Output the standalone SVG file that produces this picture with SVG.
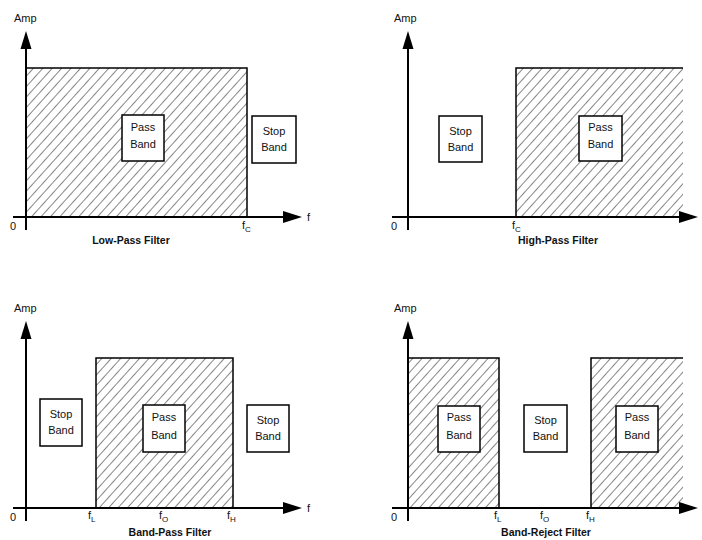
<svg xmlns="http://www.w3.org/2000/svg" width="702" height="540" viewBox="0 0 702 540">
<defs>
<pattern id="hatch" patternUnits="userSpaceOnUse" width="7" height="7" patternTransform="rotate(42)">
<line x1="0" y1="0" x2="0" y2="7" stroke="#222" stroke-width="1.1"/>
</pattern>
</defs>
<style>
text{font-family:"Liberation Sans",Arial,sans-serif;fill:#111;}
.lbl{font-size:11px;}
.bt{font-size:11px;text-anchor:middle;}
.title{font-size:10.5px;font-weight:bold;text-anchor:middle;}
.sub{font-size:8px;}
.axis{stroke:#000;stroke-width:2;fill:none;}
.edge{stroke:#000;stroke-width:1.5;fill:none;}
.box{fill:#fff;stroke:#000;stroke-width:1.5;}
.hatch{fill:url(#hatch);stroke:none;}
.ah{fill:#000;stroke:none;}
</style>
<rect width="702" height="540" fill="#fff"/>

<!-- Panel 1: Low-Pass -->
<g id="lowpass">
<rect class="hatch" x="26" y="68" width="221" height="149"/>
<polyline class="edge" points="26,68 247,68 247,217"/>
<g id="lp-axes">
<line class="axis" x1="26" y1="46" x2="26" y2="230"/>
<polygon class="ah" points="26,31 20.5,49 31.5,49"/>
<line class="axis" x1="13" y1="217" x2="286" y2="217"/>
<polygon class="ah" points="302,217 283,211 283,223"/>
</g>
<text class="lbl" x="14" y="22">Amp</text>
<text class="lbl" x="10" y="230">0</text>
<text class="lbl" x="307" y="221">f</text>
<text class="lbl" x="242" y="229">f<tspan class="sub" dy="3">C</tspan></text>
<text class="title" x="131" y="244">Low-Pass Filter</text>
<g id="lp-pass"><rect class="box" x="122" y="115" width="42" height="46"/><text class="bt" x="143" y="131">Pass</text><text class="bt" x="143" y="148">Band</text></g>
<g id="lp-stop"><rect class="box" x="252" y="116" width="44" height="47"/><text class="bt" x="274" y="135">Stop</text><text class="bt" x="274" y="151">Band</text></g>
</g>

<!-- Panel 2: High-Pass -->
<g id="highpass">
<rect class="hatch" x="516" y="68" width="167" height="149"/>
<polyline class="edge" points="516,217 516,68 683,68"/>
<g id="hp-axes">
<line class="axis" x1="408" y1="46" x2="408" y2="230"/>
<polygon class="ah" points="408,31 402.5,49 413.5,49"/>
<line class="axis" x1="392" y1="217" x2="682" y2="217"/>
<polygon class="ah" points="698,217 679,211 679,223"/>
</g>
<text class="lbl" x="394" y="22">Amp</text>
<text class="lbl" x="391" y="230">0</text>
<text class="lbl" x="512" y="229">f<tspan class="sub" dy="3">C</tspan></text>
<text class="title" x="558" y="244">High-Pass Filter</text>
<g id="hp-stop"><rect class="box" x="439" y="116" width="43" height="46"/><text class="bt" x="460.5" y="135">Stop</text><text class="bt" x="460.5" y="151">Band</text></g>
<g id="hp-pass"><rect class="box" x="579" y="116" width="43" height="45"/><text class="bt" x="600.5" y="131">Pass</text><text class="bt" x="600.5" y="148">Band</text></g>
</g>

<!-- Panel 3: Band-Pass -->
<g id="bandpass">
<rect class="hatch" x="96" y="358" width="137" height="150"/>
<polyline class="edge" points="96,508 96,358 233,358 233,508"/>
<g id="bp-axes">
<line class="axis" x1="26" y1="336" x2="26" y2="521"/>
<polygon class="ah" points="26,321 20.5,339 31.5,339"/>
<line class="axis" x1="13" y1="508" x2="286" y2="508"/>
<polygon class="ah" points="302,508 283,502 283,514"/>
</g>
<text class="lbl" x="14" y="312">Amp</text>
<text class="lbl" x="10" y="521">0</text>
<text class="lbl" x="307" y="512">f</text>
<text class="lbl" x="88" y="519">f<tspan class="sub" dy="3">L</tspan></text>
<text class="lbl" x="159" y="519">f<tspan class="sub" dy="3">O</tspan></text>
<text class="lbl" x="227" y="519">f<tspan class="sub" dy="3">H</tspan></text>
<text class="title" x="170" y="536">Band-Pass Filter</text>
<g id="bp-stop1"><rect class="box" x="40" y="399" width="42" height="47"/><text class="bt" x="61" y="418">Stop</text><text class="bt" x="61" y="434">Band</text></g>
<g id="bp-pass"><rect class="box" x="143" y="405" width="42" height="47"/><text class="bt" x="164" y="421">Pass</text><text class="bt" x="164" y="439">Band</text></g>
<g id="bp-stop2"><rect class="box" x="247" y="405" width="42" height="47"/><text class="bt" x="268" y="424">Stop</text><text class="bt" x="268" y="440">Band</text></g>
</g>

<!-- Panel 4: Band-Reject -->
<g id="bandreject">
<rect class="hatch" x="408" y="358" width="91" height="150"/>
<polyline class="edge" points="408,358 499,358 499,508"/>
<rect class="hatch" x="591" y="358" width="92" height="150"/>
<polyline class="edge" points="591,508 591,358 683,358"/>
<g id="br-axes">
<line class="axis" x1="408" y1="336" x2="408" y2="521"/>
<polygon class="ah" points="408,321 402.5,339 413.5,339"/>
<line class="axis" x1="392" y1="508" x2="682" y2="508"/>
<polygon class="ah" points="698,508 679,502 679,514"/>
</g>
<text class="lbl" x="394" y="312">Amp</text>
<text class="lbl" x="391" y="521">0</text>
<text class="lbl" x="494" y="519">f<tspan class="sub" dy="3">L</tspan></text>
<text class="lbl" x="540" y="519">f<tspan class="sub" dy="3">O</tspan></text>
<text class="lbl" x="586" y="519">f<tspan class="sub" dy="3">H</tspan></text>
<text class="title" x="546" y="536">Band-Reject Filter</text>
<g id="br-pass1"><rect class="box" x="438" y="406" width="42" height="46"/><text class="bt" x="459" y="421">Pass</text><text class="bt" x="459" y="439">Band</text></g>
<g id="br-stop"><rect class="box" x="524" y="405" width="43" height="47"/><text class="bt" x="545.5" y="424">Stop</text><text class="bt" x="545.5" y="440">Band</text></g>
<g id="br-pass2"><rect class="box" x="616" y="406" width="42" height="46"/><text class="bt" x="637" y="421">Pass</text><text class="bt" x="637" y="439">Band</text></g>
</g>
</svg>
